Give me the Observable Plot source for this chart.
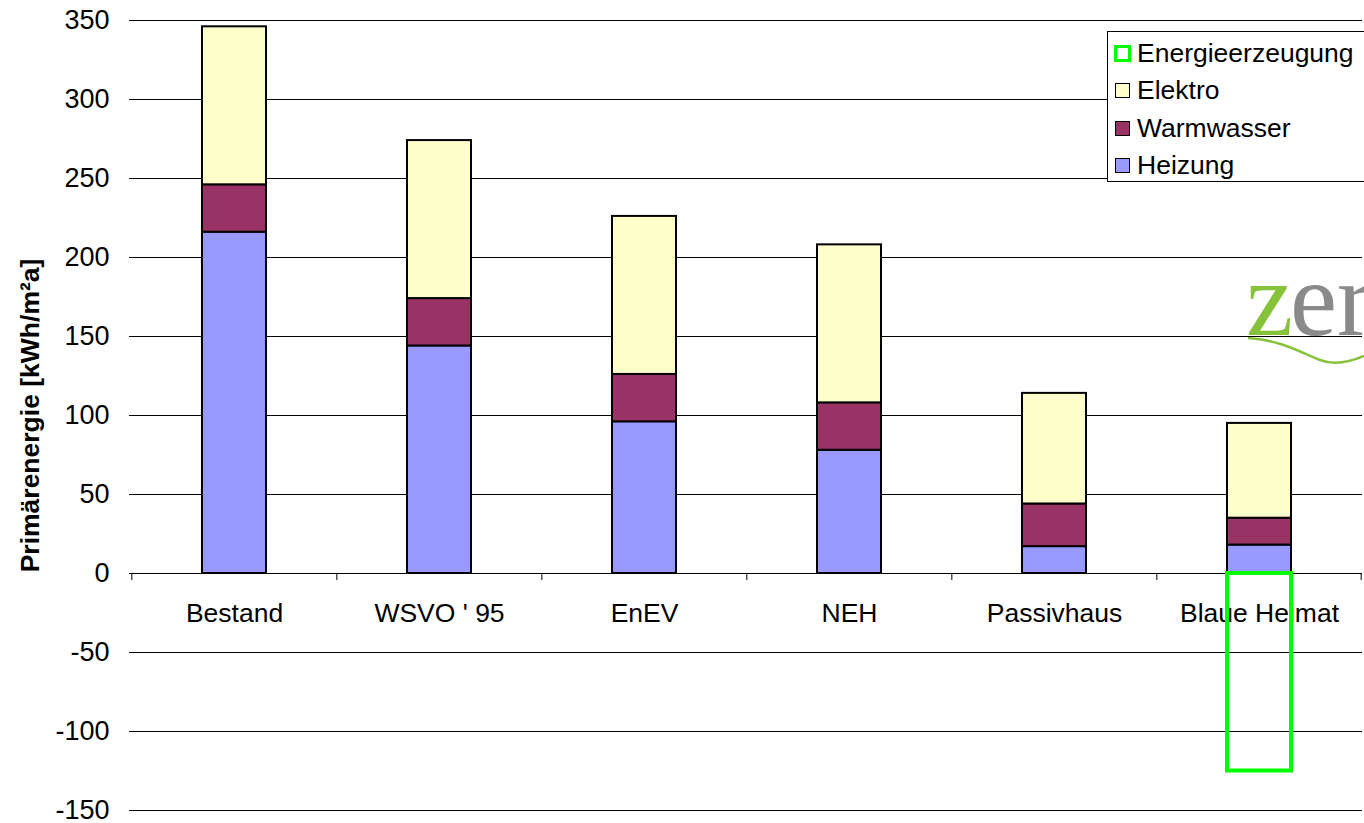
<!DOCTYPE html>
<html>
<head>
<meta charset="utf-8">
<script src="https://cdn.jsdelivr.net/npm/d3@7"></script>
<script src="https://cdn.jsdelivr.net/npm/@observablehq/plot@0.6"></script>
<style>
  html, body { margin: 0; padding: 0; background: white; }
  #wrap { position: relative; width: 1364px; height: 823px; overflow: hidden; font-family: "Liberation Sans", Arial, sans-serif; }
  #logo { position: absolute; left: 1240px; top: 240px; z-index: 0; }
  #chart { position: absolute; left: 0; top: 0; z-index: 1; }
  #legend { position: absolute; left: 1107px; top: 31px; width: 270px; height: 151px; border: 1px solid #000; background: white; z-index: 2; box-sizing: border-box; }
  .item { position: absolute; left: 7px; height: 30px; display: flex; align-items: center; font-size: 26.5px; color: #000; white-space: nowrap; }
  .sw { width: 14px; height: 14px; border: 1.5px solid #000; margin-right: 7px; box-sizing: border-box; flex: none; }
</style>
</head>
<body>
<div id="wrap">
  <svg id="logo" width="124" height="140" viewBox="0 0 124 140">
    <text x="6" y="95" font-family="Liberation Serif, serif" font-size="106" fill="#86c23a">z</text>
    <text x="50" y="95" font-family="Liberation Serif, serif" font-size="106" fill="#8a8a8a">er</text>
    <path d="M8,98 C40,100 60,112 80,120 C95,126 110,122 124,116" fill="none" stroke="#86c23a" stroke-width="2.5"/>
  </svg>
  <div id="chart"></div>
  <div id="legend"></div>
</div>
<script>
const categories = ["Bestand", "WSVO ' 95", "EnEV", "NEH", "Passivhaus", "Blaue Heimat"];
const heizung = [216, 144, 96, 78, 17, 18];
const warmwasser = [30, 30, 30, 30, 27, 17];
const elektro = [100, 100, 100, 100, 70, 60];
const energieerzeugung = [0, 0, 0, 0, 0, -125];
const seriesNames = ["Heizung", "Warmwasser", "Elektro"];
const seriesColors = ["#9999ff", "#993366", "#ffffcc"];
const yTicks = [-150, -100, -50, 0, 50, 100, 150, 200, 250, 300, 350];
const yLabel = "Primärenergie [kWh/m²a]";

const stacked = [];
categories.forEach((c, i) => {
  stacked.push({cat: c, series: "Heizung", value: heizung[i]});
  stacked.push({cat: c, series: "Warmwasser", value: warmwasser[i]});
  stacked.push({cat: c, series: "Elektro", value: elektro[i]});
});
const gen = categories.map((c, i) => ({cat: c, value: energieerzeugung[i]})).filter(d => d.value !== 0);

const W = 1364, H = 823, mL = 130, mR = 2, mT = 20, mB = 13;
const step = (W - mL - mR) / categories.length;
const FS = 26.5;

const plot = Plot.plot({
  width: W, height: H,
  marginLeft: mL, marginRight: mR, marginTop: mT, marginBottom: mB,
  style: {background: "transparent", fontFamily: "Liberation Sans, Arial, sans-serif", fontSize: FS + "px", color: "#000"},
  x: {type: "band", domain: categories, paddingInner: 0.69, paddingOuter: 0.345, axis: null},
  y: {domain: [-150, 350], axis: null},
  color: {domain: seriesNames, range: seriesColors},
  marks: [
    Plot.ruleY(yTicks, {stroke: "#000", strokeWidth: 1, insetLeft: -1}),
    Plot.ruleX(categories, {x: d => d, y1: 0, y2: 0, dx: -step / 2, insetBottom: -7, insetTop: 0, stroke: "#000", strokeWidth: 1}),
    Plot.ruleX([categories[categories.length - 1]], {x: d => d, y1: 0, y2: 0, dx: step / 2 - 1, insetBottom: -7, insetTop: 0, stroke: "#000", strokeWidth: 1}),
    Plot.axisY({ticks: yTicks, tickSize: 0, tickPadding: 21, tickFormat: d => String(d), fontSize: 27, label: null}),
    Plot.text(categories, {x: d => d, y: 0, dy: 40, text: d => d, fontSize: FS, fill: "#000"}),
    Plot.text([yLabel], {frameAnchor: "left", textAnchor: "middle", dx: -100, rotate: -90, text: d => d, fontSize: FS, fontWeight: "bold", fill: "#000"}),
    Plot.barY(stacked, {x: "cat", y: "value", fill: "series", order: seriesNames, stroke: "#000", strokeWidth: 2}),
    Plot.barY(gen, {x: "cat", y: "value", fill: "none", stroke: "#00ff00", strokeWidth: 4})
  ]
});
document.getElementById("chart").appendChild(plot);

// legend
const legendItems = [
  {name: "Energieerzeugung", fill: "#ffffff", stroke: "#00ff00", sw: 3.5, size: 17},
  {name: "Elektro", fill: seriesColors[2], stroke: "#000", sw: 1.5, size: 15},
  {name: "Warmwasser", fill: seriesColors[1], stroke: "#000", sw: 1.5, size: 15},
  {name: "Heizung", fill: seriesColors[0], stroke: "#000", sw: 1.5, size: 15}
];
const lg = document.getElementById("legend");
const rowCenters = [21, 58, 96, 133];
legendItems.forEach((it, i) => {
  const row = document.createElement("div");
  row.className = "item";
  row.style.top = (rowCenters[i] - 15) + "px";
  const sw = document.createElement("div");
  sw.className = "sw";
  sw.style.background = it.fill;
  sw.style.border = it.sw + "px solid " + it.stroke;
  sw.style.width = it.size + "px";
  sw.style.height = it.size + "px";
  if (i === 0) { sw.style.marginLeft = "-1px"; sw.style.marginRight = "6px"; }
  const t = document.createElement("span");
  t.textContent = it.name;
  row.appendChild(sw);
  row.appendChild(t);
  lg.appendChild(row);
});
</script>
</body>
</html>
